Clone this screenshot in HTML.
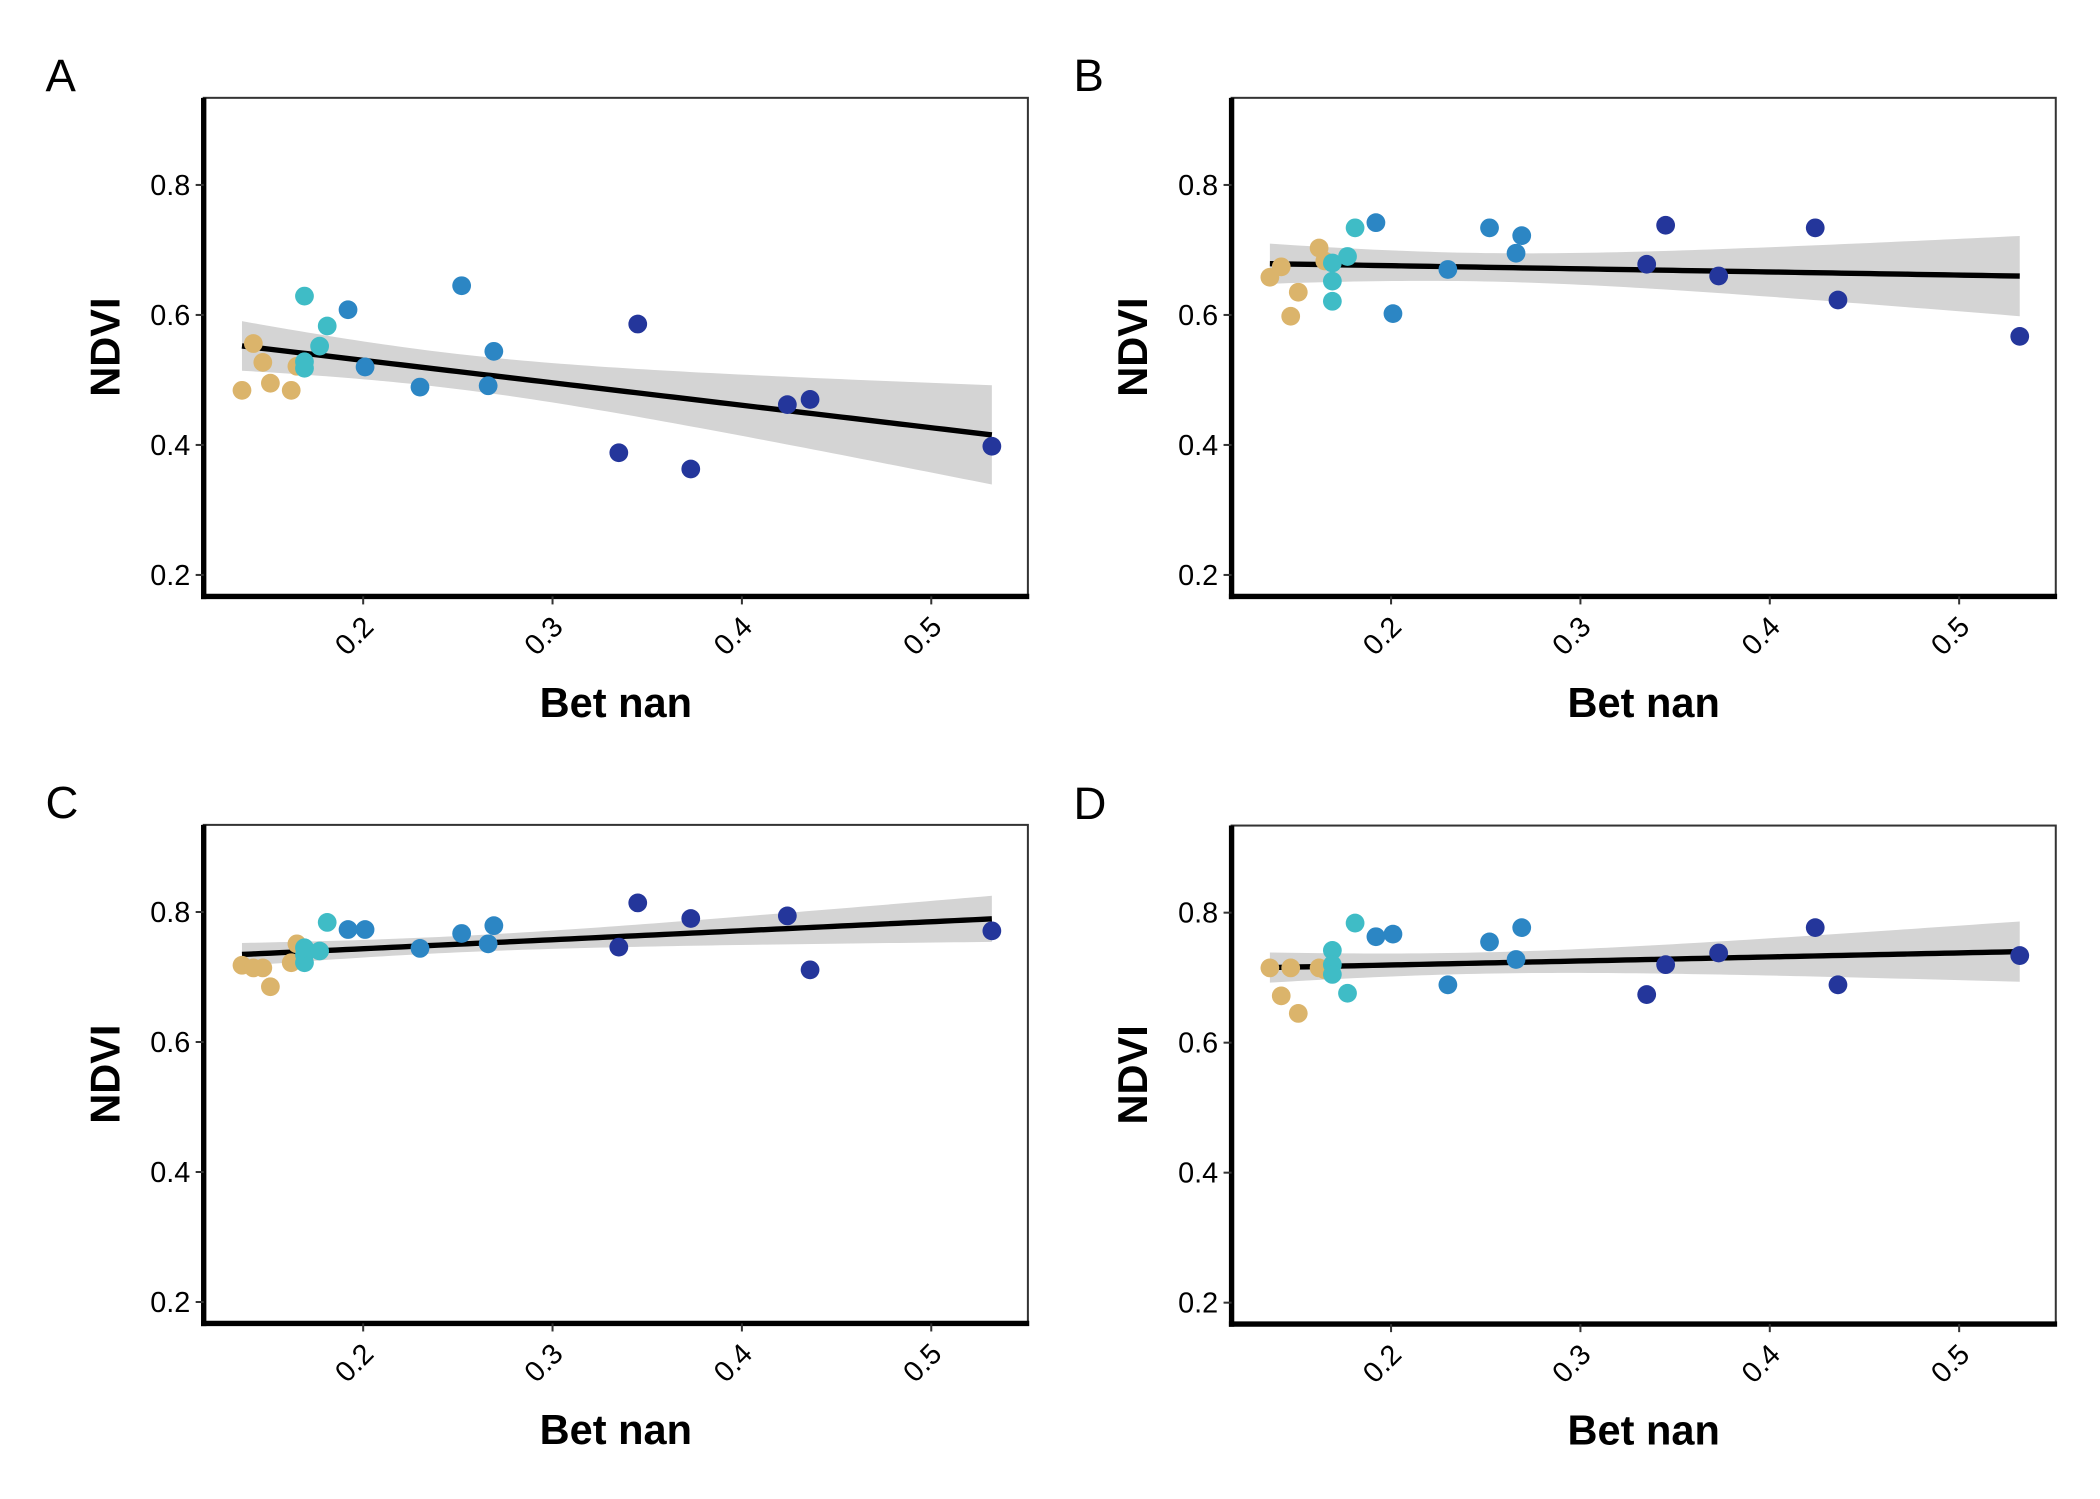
<!DOCTYPE html>
<html><head><meta charset="utf-8"><style>html,body{margin:0;padding:0;background:#fff}svg{display:block}</style></head>
<body>
<svg id="fig" width="2100" height="1499" viewBox="0 0 1567 1118.5" preserveAspectRatio="none" xmlns="http://www.w3.org/2000/svg" font-family="Liberation Sans, Arial, sans-serif"></svg>
<script>
const betNan = [0.136,0.142,0.147,0.151,0.162,0.165, 0.169,0.169,0.169,0.177,0.181, 0.192,0.201,0.230,0.252,0.266,0.269, 0.335,0.345,0.373,0.424,0.436,0.532];
const groups = [0,0,0,0,0,0, 1,1,1,1,1, 2,2,2,2,2,2, 3,3,3,3,3,3];
const groupColors = ["#dbb46b","#3fbcc6","#2c86c4","#24369b"];
const ndviA = [0.484,0.556,0.527,0.495,0.484,0.521, 0.629,0.528,0.518,0.552,0.583, 0.608,0.520,0.489,0.645,0.491,0.544, 0.388,0.586,0.363,0.462,0.470,0.398];
const ndviB = [0.658,0.674,0.598,0.635,0.703,0.683, 0.680,0.652,0.621,0.690,0.734, 0.742,0.602,0.670,0.734,0.695,0.722, 0.678,0.738,0.660,0.734,0.623,0.567];
const ndviC = [0.718,0.714,0.714,0.685,0.722,0.751, 0.734,0.722,0.745,0.740,0.784, 0.773,0.773,0.744,0.767,0.751,0.779, 0.746,0.814,0.790,0.794,0.711,0.771];
const ndviD = [0.715,0.672,0.715,0.645,0.715,0.712, 0.742,0.720,0.705,0.676,0.784, 0.763,0.767,0.689,0.755,0.728,0.777, 0.674,0.720,0.738,0.777,0.689,0.734];
const xTicks = [0.2,0.3,0.4,0.5];
const yTicks = [0.2,0.4,0.6,0.8];
const yTickLabels = ["0.2","0.4","0.6","0.8"];
const xTickLabels = ["0.2","0.3","0.4","0.5"];
const panelLabels = ["A","B","C","D"];

const NS="http://www.w3.org/2000/svg";
const svg=document.getElementById('fig');
function mk(tag,attrs,parent){const e=document.createElementNS(NS,tag);for(const k in attrs)e.setAttribute(k,attrs[k]);(parent||svg).appendChild(e);return e;}

const panels=[{d:ndviA,ox:0,oy:0},{d:ndviB,ox:767,oy:0},{d:ndviC,ox:0,oy:542.5},{d:ndviD,ox:767,oy:543}];
panels.forEach((p,pi)=>{
  const g=mk('g',{});
  
  
  const L=152+p.ox,R=767+p.ox,T=73+p.oy,B=445+p.oy;
  const sx=v=>271+p.ox+(v-0.2)*1413;
  const sy=v=>138+p.oy+(0.8-v)*485;
  const lab=mk('text',{x:34+p.ox,y:68+p.oy,'font-size':34},g);lab.textContent=panelLabels[pi];
  
  const xs=betNan,ys=p.d,n=xs.length;
  const mx=xs.reduce((a,b)=>a+b)/n,my=ys.reduce((a,b)=>a+b)/n;
  let sxx=0,sxy=0;for(let i=0;i<n;i++){sxx+=(xs[i]-mx)**2;sxy+=(xs[i]-mx)*(ys[i]-my);}
  const b1=sxy/sxx,b0=my-b1*mx;
  let sse=0;for(let i=0;i<n;i++)sse+=(ys[i]-b0-b1*xs[i])**2;
  const s=Math.sqrt(sse/(n-2)),tq=2.08;
  const x0=Math.min(...xs),x1=Math.max(...xs);
  const up=[],lo=[],ln=[];
  for(let k=0;k<=80;k++){const x=x0+(x1-x0)*k/80;const f=b0+b1*x;const se=s*Math.sqrt(1/n+(x-mx)**2/sxx);
    up.push(sx(x)+','+sy(f+tq*se));lo.unshift(sx(x)+','+sy(f-tq*se));ln.push(sx(x)+','+sy(f));}
  const rib=mk('polygon',{points:up.concat(lo).join(' '),fill:'#d4d4d4'},g);
  
  const line=mk('polyline',{points:ln.join(' '),fill:'none',stroke:'#000','stroke-width':4},g);
  
  for(let i=0;i<n;i++){
    const c=mk('circle',{cx:sx(xs[i]),cy:sy(ys[i]),r:7,fill:groupColors[groups[i]]},g);
    
  }
  const fr=mk('rect',{x:L,y:T,width:R-L,height:B-T,fill:'none',stroke:'#333','stroke-width':1.5},g);
  
  const ya=mk('line',{x1:L,y1:T,x2:L,y2:B+2,stroke:'#000','stroke-width':4},g);
  
  const xa=mk('line',{x1:L-2,y1:B,x2:R+1,y2:B,stroke:'#000','stroke-width':4},g);
  
  yTicks.forEach((v,i)=>{
    mk('line',{x1:L-6,x2:L,y1:sy(v),y2:sy(v),stroke:'#333','stroke-width':1.5},g);
    const t=mk('text',{x:L-10,y:sy(v)+7.5,'font-size':21.5,'text-anchor':'end'},g);t.textContent=yTickLabels[i];
    
  });
  xTicks.forEach((v,i)=>{
    mk('line',{x1:sx(v),x2:sx(v),y1:B,y2:B+6,stroke:'#333','stroke-width':1.5},g);
    const t=mk('text',{x:sx(v)+9,y:B+24,'font-size':21.5,'text-anchor':'end',transform:`rotate(-45 ${sx(v)+9} ${B+24})`},g);t.textContent=xTickLabels[i];
    
  });
  const xt=mk('text',{x:(L+R)/2,y:B+90,'font-size':31,'font-weight':'bold','text-anchor':'middle'},g);xt.textContent='Bet nan';
  
  const cy=(T+B)/2;
  const yt=mk('text',{x:89+p.ox,y:cy,'font-size':31,'font-weight':'bold','text-anchor':'middle',transform:`rotate(-90 ${89+p.ox} ${cy})`},g);yt.textContent='NDVI';
  
});
</script>
</body></html>
